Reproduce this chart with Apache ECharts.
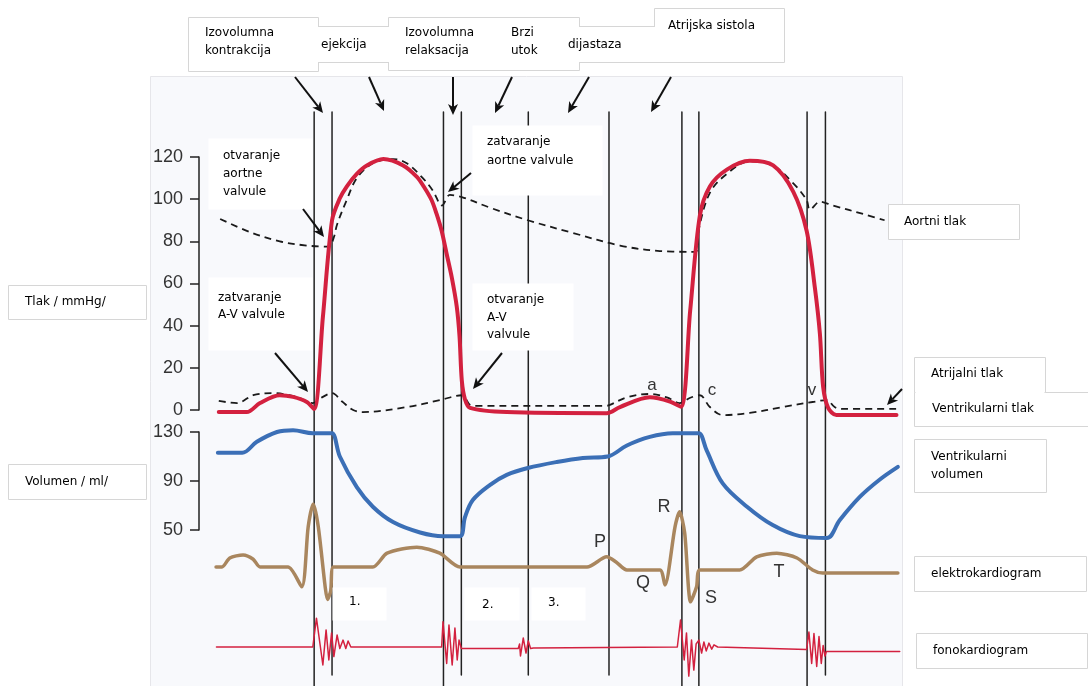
<!DOCTYPE html>
<html><head><meta charset="utf-8">
<script src="https://cdn.jsdelivr.net/npm/echarts/dist/echarts.min.js"></script>
<style>html,body{margin:0;padding:0;background:#fff}#c{width:1088px;height:686px}</style>
</head><body><div id="c"></div>
<script>
// ---- data (time in ms) ----
const pressureTicks = [0, 20, 40, 60, 80, 100, 120];
const volumeTicks = [50, 90, 130];
const eventTimes = [358, 397, 640, 679, 825, 1001, 1160, 1197, 1433, 1473];
const eventReachesBottom = [true, false, true, false, false, false, true, true, true, false];

const ventricularPressure = [[150,-1],[211,-1],[240,3.3],[283,7],[312,6.2],[342,3.8],[358,0.5],[377,44],[397,90],[414,100.4],[429,106],[451,112],[473,116],[509,119],[552,116],[582,110.6],[597,106],[614,99.6],[625,93],[636,85],[647,74],[658,63],[669,49],[675,35],[680,14],[687,5],[698,1],[778,-1],[996,-1.5],[1025,1.4],[1090,6],[1134,4],[1158,1.5],[1178,47],[1199,92],[1221,106],[1258,114],[1308,118.2],[1359,116],[1403,103.5],[1432,85],[1450,58],[1461,36],[1468,11],[1479,1],[1497,-2.4],[1628,-2.4]];

const aorticPressure = [[153,90.6],[218,84.4],[283,80],[342,78],[390,77.5],[401,82],[408,88],[429,99.6],[451,110],[486,117],[530,119],[560,117],[595,110],[617,104],[637,97],[654,102],[680,101],[741,96],[824,90],[922,84],[1025,78],[1112,75.4],[1190,75],[1197,86],[1221,103],[1258,112],[1308,118],[1358,116],[1403,107.5],[1432,99.6],[1439,95],[1461,98.8],[1489,97],[1563,92.5],[1602,90]];

const atrialPressure = [[150,4.3],[190,3.3],[225,7],[268,8],[320,6.2],[355,3.3],[375,6],[397,8],[419,4],[443,0],[464,-1],[560,1.4],[632,4.7],[680,7],[698,2.4],[709,2],[996,2],[1003,2.4],[1040,6],[1090,7.6],[1127,6],[1155,3.3],[1177,5.7],[1199,7],[1221,1.4],[1249,-2.4],[1308,-1.4],[1380,1.4],[1445,3.8],[1476,4.7],[1493,1.4],[1511,0.5],[1628,0.5]];

const ventricularVolume = [[148,113],[201,113],[233,122],[277,130],[312,131.5],[355,129],[385,129],[397,129],[414,110],[451,85],[486,69],[530,56.5],[589,48],[639,45],[676,45],[687,60.6],[704,74.5],[741,86.7],[778,95],[824,100.6],[887,105.5],[944,108.8],[998,110],[1040,119],[1090,126],[1140,129],[1185,129],[1197,129],[1214,115],[1249,88],[1302,69],[1358,54],[1417,45],[1476,43.5],[1504,58],[1548,77],[1591,91],[1631,101.5]];

const ecg = [[144,0],[157,0],[174,0.15],[203,0.2],[225,0.13],[240,0],[301,0],[331,-0.33],[345,0.67],[356,1.05],[367,0.67],[382,-0.33],[387,-0.54],[394,-0.4],[400,0],[486,0],[517,0.23],[582,0.33],[632,0.23],[676,0],[953,0],[996,0.17],[1017,0.08],[1040,-0.05],[1112,-0.05],[1123,-0.3],[1145,0.67],[1155,0.92],[1166,0.57],[1179,-0.58],[1192,-0.33],[1199,-0.05],[1286,-0.05],[1323,0.17],[1367,0.23],[1411,0.15],[1445,-0.05],[1467,-0.1],[1631,-0.1]];

const phono = [[145,0],[355,0],[363,0.96],[377,-0.6],[384,0.57],[390,-0.43],[396,0.47],[401,-0.32],[408,0.4],[414,-0.05],[421,0.23],[427,-0.05],[432,0.2],[438,0],[636,0],[639,0.84],[647,-0.55],[652,0.73],[659,-0.6],[665,0.63],[670,-0.43],[674,0.23],[679,-0.05],[803,-0.05],[806,0.1],[808,-0.3],[814,0.3],[820,-0.2],[825,0.2],[830,-0.05],[836,-0.03],[1150,0],[1157,0.9],[1165,-0.43],[1170,0.47],[1175,-0.97],[1181,0.23],[1186,-0.77],[1191,0.1],[1197,0.23],[1203,-0.2],[1208,0.17],[1213,-0.13],[1219,0.13],[1225,-0.07],[1230,0.07],[1238,0],[1432,-0.08],[1437,0.5],[1443,-0.55],[1448,0.45],[1454,-0.65],[1459,0.35],[1464,-0.55],[1468,0.05],[1472,-0.3],[1475,-0.15],[1635,-0.15]];

// ---- chart ----
const FONT = '"DejaVu Sans", sans-serif';
const chart = echarts.init(document.getElementById('c'));
const gridBase = {left:150, width:752, outerBoundsMode:'none', containLabel:false};
const grids = [
  Object.assign({top:157, height:253}, gridBase),
  Object.assign({top:432, height:98}, gridBase),
  Object.assign({top:477, height:150}, gridBase),
  Object.assign({top:602, height:90}, gridBase),
  Object.assign({top:112, height:574}, gridBase)
];
const xAxes = grids.map((g,i)=>({type:'value', gridIndex:i, min:0, max:1640, show:false}));
const shownAxis = (i, min, max, interval) => ({
  type:'value', gridIndex:i, min, max, interval, position:'left', offset:-49,
  axisLine:{show:true, lineStyle:{color:'#222', width:1.5}},
  axisTick:{show:true, length:9, lineStyle:{color:'#222', width:1.5}},
  axisLabel:{margin:16, fontSize:18, color:'#333', fontFamily:'"Liberation Sans", Arial, sans-serif'},
  splitLine:{show:false}
});
const yAxes = [
  shownAxis(0, pressureTicks[0], pressureTicks[pressureTicks.length-1], pressureTicks[1]-pressureTicks[0]),
  shownAxis(1, volumeTicks[0], volumeTicks[volumeTicks.length-1], volumeTicks[1]-volumeTicks[0]),
  {type:'value', gridIndex:2, min:-1, max:1.5, show:false},
  {type:'value', gridIndex:3, min:-1.5, max:1.5, show:false},
  {type:'value', gridIndex:4, min:0, max:574, show:false}
];

const lineSeries = (data, idx, style, smooth, z) => ({
  type:'line', xAxisIndex:idx, yAxisIndex:idx, data, showSymbol:false, symbol:'none',
  smooth, clip:false, silent:true, z, lineStyle:Object.assign({cap:'round', join:'round'}, style), animation:false
});

const series = [];
eventTimes.forEach((t,i)=>{
  series.push(lineSeries([[t, eventReachesBottom[i]?0:11],[t,574]], 4, {color:'#222', width:1.5}, false, 1));
});
series.push(lineSeries(aorticPressure, 0, {color:'#1a1a1a', width:1.8, type:[7,5], cap:'butt'}, 0.35, 3));
series.push(lineSeries(atrialPressure, 0, {color:'#1a1a1a', width:1.8, type:[7,5], cap:'butt'}, 0.35, 3));
series.push(lineSeries(ventricularPressure, 0, {color:'#d3213f', width:4}, 0.3, 4));
series.push(lineSeries(ventricularVolume, 1, {color:'#3b6fb6', width:4}, 0.35, 4));
series.push(lineSeries(ecg, 2, {color:'#a9865e', width:3.5}, 0.25, 4));
series.push(lineSeries(phono, 3, {color:'#d3213f', width:1.5}, false, 4));

// ---- annotations ----
const G = [];
G.push({type:'rect', shape:{x:150.5,y:76.5,width:752,height:612}, style:{fill:'#f8f9fc', stroke:'#e6e6ea', lineWidth:1}, z:-10, silent:true});
const box = (x,y,w,h,stroke) => G.push({type:'rect', shape:{x:x+0.5,y:y+0.5,width:w,height:h}, style:{fill:'#fff', stroke:stroke?'#d6d6d6':null, lineWidth:1}, z:50, silent:true});
const hline = (x1,x2,y,color) => G.push({type:'line', shape:{x1,y1:y+0.5,x2,y2:y+0.5}, style:{stroke:color||'#d6d6d6', lineWidth:1}, z:51, silent:true});
// top phase boxes
box(188,17,130,54,true); box(388,17,191,53,true); box(654,8,130,54,true);
G.push({type:'rect', shape:{x:318,y:27,width:71,height:35}, style:{fill:'#fff'}, z:51, silent:true});
hline(318,389,26); hline(318,389,62);
G.push({type:'rect', shape:{x:579,y:27,width:76,height:35}, style:{fill:'#fff'}, z:51, silent:true});
hline(579,655,26); hline(579,655,62);
// left boxes
box(8,285,138,34,true); box(8,464,138,35,true);
// right boxes
box(888,204,131,35,true);
box(914,392,180,34,true);
box(914,357,131,35,true);
G.push({type:'rect', shape:{x:915.5,y:390,width:129,height:4}, style:{fill:'#fff'}, z:52, silent:true});
box(914,439,132,53,true); box(914,556,172,35,true); box(916,633,171,35,true);
// in-plot white boxes
[[208,138,104,71],[208,277,104,73],[472,125,130,70],[472,283,101,67],[332,587,54,33],[464,587,55,33],[531,587,54,33]].forEach(b=>box(b[0],b[1],b[2],b[3],false));

const texts = [
  ['Izovolumna\nkontrakcija',205,33,18],['ejekcija',321,45,16],['Izovolumna\nrelaksacija',405,33,18],['Brzi\nutok',511,33,18],
  ['dijastaza',568,45,16],['Atrijska sistola',668,26,16],['Tlak / mmHg/',25,302,16],['Volumen / ml/',25,482,16],
  ['Aortni tlak',904,222,16],['Atrijalni tlak',931,374,16],['Ventrikularni tlak',932,409,16],['Ventrikularni\nvolumen',931,457,18],
  ['elektrokardiogram',931,574,16],['fonokardiogram',933,651,16],
  ['otvaranje\naortne\nvalvule',223,156,18],['zatvaranje\nA-V valvule',218,298,17],['zatvaranje\naortne valvule',487,142,19],
  ['otvaranje\nA-V\nvalvule',487,300,17.5],['1.',349,602,16],['2.',482,605,16],['3.',548,603,16]
];
texts.forEach(t=>G.push({type:'text', x:t[1], y:t[2]-t[3]/2, z:60, silent:true,
  style:{text:t[0], fontSize:12, fontFamily:FONT, fill:'#000', align:'left', verticalAlign:'top', lineHeight:t[3]}}));

const letters = [['a',652,385,17],['c',712,390,17],['v',812,390,17],['P',600,542,18],['R',664,507,18],['Q',643,583,18],['S',711,598,18],['T',779,572,18]];
letters.forEach(l=>G.push({type:'text', x:l[1], y:l[2], z:60, silent:true,
  style:{text:l[0], fontSize:l[3], fontFamily:'"Liberation Sans", Arial, sans-serif', fill:'#333', align:'center', verticalAlign:'middle'}}));

function arrow(x1,y1,x2,y2){
  const dx=x2-x1, dy=y2-y1, L=Math.hypot(dx,dy), ux=dx/L, uy=dy/L, hl=11, hw=5;
  const bx=x2-ux*hl, by=y2-uy*hl;
  G.push({type:'line', shape:{x1,y1,x2:bx+ux*3,y2:by+uy*3}, style:{stroke:'#111', lineWidth:2}, z:61, silent:true});
  G.push({type:'polygon', shape:{points:[[x2,y2],[bx-uy*hw,by+ux*hw],[bx+ux*3,by+uy*3],[bx+uy*hw,by-ux*hw]]}, style:{fill:'#111'}, z:61, silent:true});
}
arrow(295,77,323,113); arrow(369,77,384,111); arrow(453,77,453,115); arrow(512,77,495,113); arrow(589,77,568,113); arrow(671,77,651,112);
arrow(303,209,324,237); arrow(275,353,308,392); arrow(471,173,448,192); arrow(502,353,473,389); arrow(902,389,887,405);

chart.setOption({
  animation:false,
  backgroundColor:'#fff',
  grid:grids, xAxis:xAxes, yAxis:yAxes, series, graphic:G
});
</script>
</body></html>
